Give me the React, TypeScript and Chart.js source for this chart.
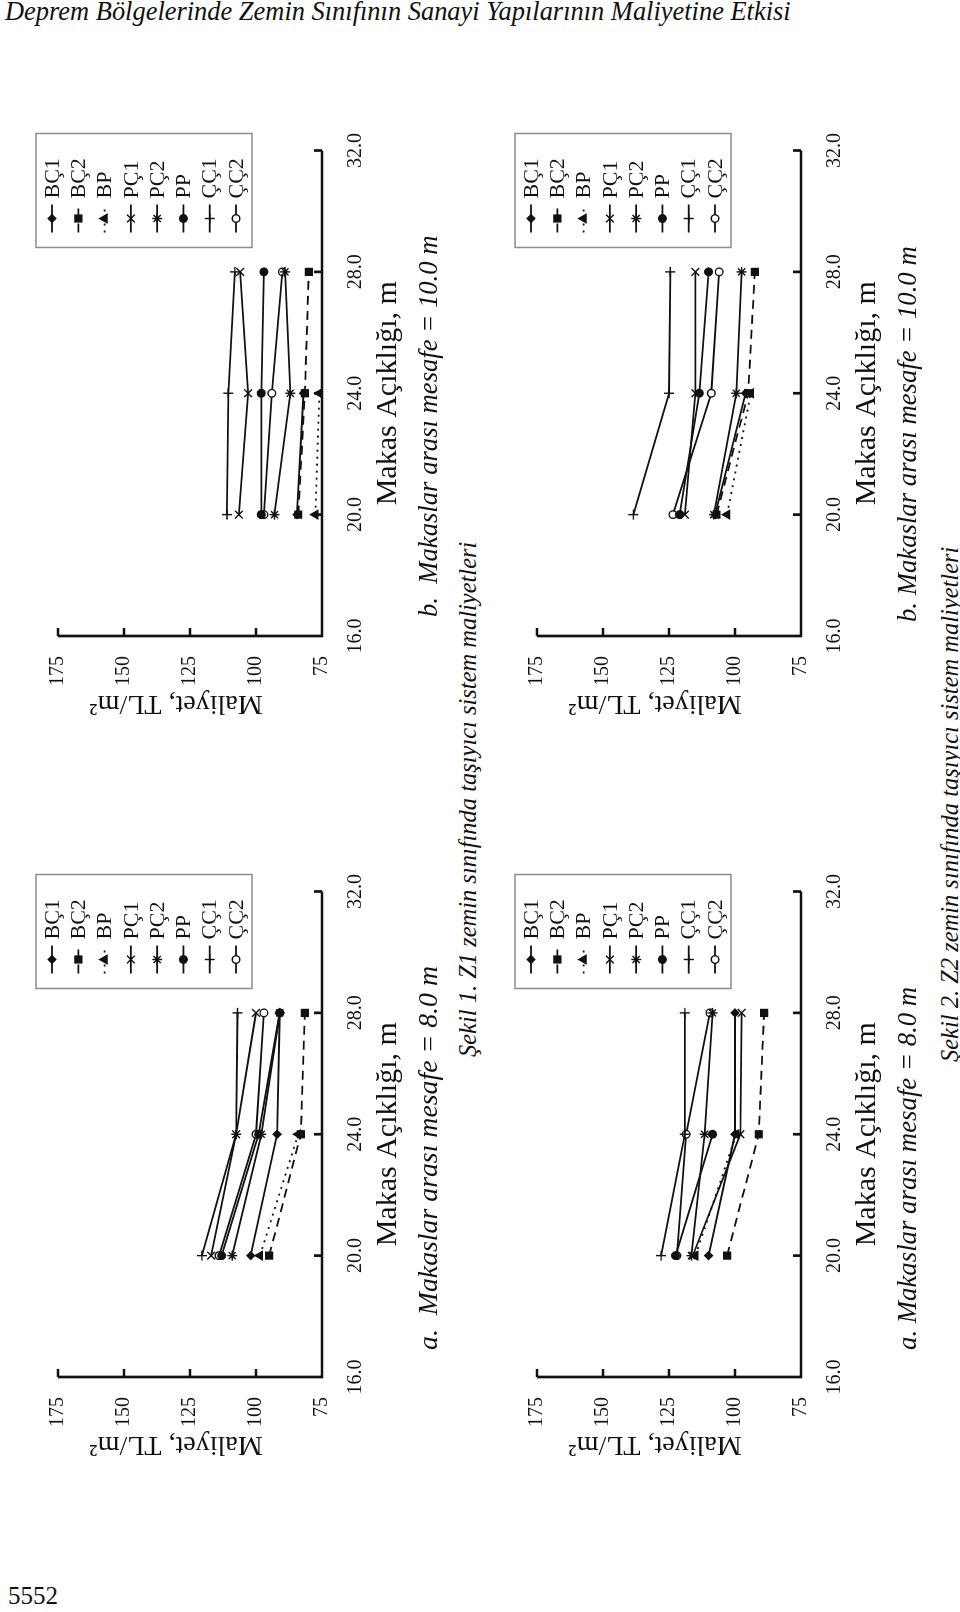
import React, { useEffect, useLayoutEffect, useRef } from 'react';
import { Chart, registerables } from 'chart.js';
import { drawPoint } from 'chart.js/helpers';

Chart.register(...registerables);

const SERIF = "'Liberation Serif', 'Times New Roman', 'DejaVu Serif', serif";
const INK = '#111';

// ---------- text ----------
const pageTitle = 'Deprem Bölgelerinde Zemin Sınıfının Sanayi Yapılarının Maliyetine Etkisi';
const pageNumber = '5552';
const xAxisTitle = 'Makas Açıklığı, m';
const yAxisTitle = '    Maliyet, TL/m²';

// ---------- axes ----------
const spans = [20, 24, 28]; // Makas açıklığı (m)
const xTickValues = [16, 20, 24, 28, 32];
const yTickValues = [75, 100, 125, 150, 175];
const seriesLabels = ['BÇ1', 'BÇ2', 'BP', 'PÇ1', 'PÇ2', 'PP', 'ÇÇ1', 'ÇÇ2'];

// ---------- Şekil 1 (Z1), a: 8.0 m ----------
const z1a_BC1 = [102, 92, 91];
const z1a_BC2 = [95, 83, 81.5];
const z1a_BP = [98.5, 84, null];
const z1a_PC1 = [117, 107.5, 100];
const z1a_PC2 = [109, 98, 91];
const z1a_PP = [113, 99, 91];
const z1a_CC1 = [120.5, 107.5, 107];
const z1a_CC2 = [114, 100, 97];

// ---------- Şekil 1 (Z1), b: 10.0 m ----------
const z1b_BC1 = [84.5, 82, null];
const z1b_BC2 = [84, 81.5, 80];
const z1b_BP = [77.5, 76, null];
const z1b_PC1 = [106.5, 103, 106];
const z1b_PC2 = [93, 87, 89];
const z1b_PP = [98, 98, 97];
const z1b_CC1 = [111, 110.5, 108];
const z1b_CC2 = [97, 94, 90];

// ---------- Şekil 2 (Z2), a: 8.0 m ----------
const z2a_BC1 = [110, 100, 100];
const z2a_BC2 = [103, 91, 89];
const z2a_BP = [115, 99.5, null];
const z2a_PC1 = [116, 98, 97.5];
const z2a_PC2 = [116.5, 111.5, 108.5];
const z2a_PP = [122.5, 108.5, null];
const z2a_CC1 = [128, 119, 119];
const z2a_CC2 = [122, 118.5, 109.5];

// ---------- Şekil 2 (Z2), b: 10.0 m ----------
const z2b_BC1 = [107.5, 96, null];
const z2b_BC2 = [107, 95, 92.5];
const z2b_BP = [103, 94, null];
const z2b_PC1 = [119, 115, 115];
const z2b_PC2 = [108, 99.5, 97.5];
const z2b_PP = [121, 113.5, 110];
const z2b_CC1 = [138.5, 125, 124.5];
const z2b_CC2 = [123.5, 109, 106];

// ---------- styles ----------
const seriesStyles = [
  { pointStyle: 'rectRot', radius: 3.8, fill: INK, dash: [] as number[] },
  { pointStyle: 'rect', radius: 4.8, fill: INK, dash: [9, 6] },
  { pointStyle: 'triangle', radius: 4.8, fill: INK, dash: [2, 5] },
  { pointStyle: 'crossRot', radius: 5.5, fill: INK, dash: [] as number[] },
  { pointStyle: 'star', radius: 5, fill: INK, dash: [] as number[] },
  { pointStyle: 'circle', radius: 3.8, fill: INK, dash: [] as number[] },
  { pointStyle: 'cross', radius: 5, fill: INK, dash: [] as number[] },
  { pointStyle: 'circle', radius: 3.8, fill: '#fff', dash: [] as number[] },
];

// layout (chart frame: u to the right, v downwards; the frame is rotated -90deg on the page)
const panels = [
  { key: 'z1a', series: [z1a_BC1, z1a_BC2, z1a_BP, z1a_PC1, z1a_PC2, z1a_PP, z1a_CC1, z1a_CC2], left: 140, top: 20 },
  { key: 'z1b', series: [z1b_BC1, z1b_BC2, z1b_BP, z1b_PC1, z1b_PC2, z1b_PP, z1b_CC1, z1b_CC2], left: 881, top: 20 },
  { key: 'z2a', series: [z2a_BC1, z2a_BC2, z2a_BP, z2a_PC1, z2a_PC2, z2a_PP, z2a_CC1, z2a_CC2], left: 140, top: 499 },
  { key: 'z2b', series: [z2b_BC1, z2b_BC2, z2b_BP, z2b_PC1, z2b_PC2, z2b_PP, z2b_CC1, z2b_CC2], left: 881, top: 499 },
];

const captions = [
  { text: 'a.  Makaslar arası mesafe = 8.0 m', u0: 262, u1: 646, vc: 428, size: 27 },
  { text: 'b.  Makaslar arası mesafe = 10.0 m', u0: 995, u1: 1376, vc: 428, size: 27 },
  { text: 'Şekil 1. Z1 zemin sınıfında taşıyıcı sistem maliyetleri', u0: 555, u1: 1070, vc: 468, size: 26 },
  { text: 'a. Makaslar arası mesafe = 8.0 m', u0: 262, u1: 625, vc: 907, size: 27 },
  { text: 'b. Makaslar arası mesafe = 10.0 m', u0: 990, u1: 1366, vc: 907, size: 27 },
  { text: 'Şekil 2. Z2 zemin sınıfında taşıyıcı sistem maliyetleri', u0: 550, u1: 1065, vc: 950, size: 26 },
];

const CANVAS_W = 620;
const CANVAS_H = 400;

const axisFramePlugin = {
  id: 'axisFrame',
  afterDatasetsDraw(chart: any) {
    const { ctx, scales } = chart;
    const xs = scales.x;
    const ys = scales.y;
    const x0 = xs.getPixelForValue(xTickValues[0]);
    const x1 = xs.getPixelForValue(xTickValues[xTickValues.length - 1]);
    const y0 = ys.getPixelForValue(yTickValues[0]);
    const y1 = ys.getPixelForValue(yTickValues[yTickValues.length - 1]);
    ctx.save();
    ctx.strokeStyle = INK;
    ctx.lineWidth = 2.7;
    ctx.setLineDash([]);
    ctx.lineJoin = 'miter';
    ctx.beginPath();
    ctx.moveTo(x0, y1);
    ctx.lineTo(x0, y0);
    ctx.lineTo(x1, y0);
    ctx.stroke();
    ctx.beginPath();
    for (const v of yTickValues.slice(1)) {
      const p = ys.getPixelForValue(v);
      ctx.moveTo(x0, p);
      ctx.lineTo(x0 + 8, p);
    }
    for (const v of xTickValues.slice(1)) {
      const p = xs.getPixelForValue(v);
      ctx.moveTo(p, y0);
      ctx.lineTo(p, y0 - 8);
    }
    ctx.stroke();
    ctx.restore();
  },
};

const legendBoxPlugin = {
  id: 'legendBox',
  afterDraw(chart: any) {
    const { ctx, chartArea: a } = chart;
    const left = a.right - 97;
    const right = a.right + 17;
    const top = a.top - 22;
    const bottom = a.top + 194;
    ctx.save();
    ctx.strokeStyle = '#8c8c8c';
    ctx.lineWidth = 1.5;
    ctx.setLineDash([]);
    ctx.strokeRect(left, top, right - left, bottom - top);
    const dsets = chart.data.datasets;
    const rowH = (bottom - top - 32) / (dsets.length - 1);
    dsets.forEach((ds: any, i: number) => {
      const cy = top + 16 + i * rowH;
      const lx0 = a.right - 82;
      const lx1 = a.right - 54;
      ctx.strokeStyle = INK;
      ctx.lineWidth = ds.borderWidth;
      ctx.setLineDash(ds.borderDash || []);
      ctx.beginPath();
      ctx.moveTo(lx0, cy);
      ctx.lineTo(lx1, cy);
      ctx.stroke();
      ctx.setLineDash([]);
      ctx.fillStyle = ds.pointBackgroundColor;
      ctx.strokeStyle = INK;
      ctx.lineWidth = ds.pointBorderWidth;
      drawPoint(
        ctx,
        { pointStyle: ds.pointStyle, radius: ds.pointRadius, rotation: 0, borderWidth: ds.pointBorderWidth } as any,
        (lx0 + lx1) / 2,
        cy
      );
      ctx.fillStyle = INK;
      ctx.font = `22px ${SERIF}`;
      ctx.textAlign = 'left';
      ctx.textBaseline = 'middle';
      ctx.fillText(ds.label, a.right - 48, cy + 1);
    });
    ctx.restore();
  },
};

function PanelChart({ series, left, top }: { series: (number | null)[][]; left: number; top: number }) {
  const ref = useRef<HTMLCanvasElement>(null);
  useEffect(() => {
    if (!ref.current) return;
    const datasets = seriesLabels.map((label, i) => {
      const st = seriesStyles[i];
      return {
        label,
        data: spans
          .map((x, j) => ({ x, y: series[i][j] }))
          .filter((p) => p.y !== null && p.y !== undefined),
        borderColor: INK,
        backgroundColor: st.fill,
        borderWidth: 1.8,
        borderDash: st.dash,
        pointStyle: st.pointStyle,
        pointRadius: st.radius,
        pointBackgroundColor: st.fill,
        pointBorderColor: INK,
        pointBorderWidth: 1.4,
        tension: 0,
        fill: false,
      };
    });
    const chart = new Chart(ref.current, {
      type: 'line',
      data: { datasets } as any,
      options: {
        responsive: false,
        animation: false,
        devicePixelRatio: 1,
        layout: { padding: { left: 0, right: 36, top: 38, bottom: 0 } },
        plugins: { legend: { display: false }, tooltip: { enabled: false } },
        scales: {
          x: {
            type: 'linear',
            min: xTickValues[0],
            max: xTickValues[xTickValues.length - 1],
            grid: { display: false, drawTicks: false },
            border: { display: false },
            afterBuildTicks: (s: any) => {
              s.ticks = xTickValues.map((v) => ({ value: v }));
            },
            ticks: {
              autoSkip: false,
              maxRotation: 0,
              padding: 22,
              color: INK,
              font: { family: SERIF, size: 20 },
              callback: (v: any) => Number(v).toFixed(1),
            },
            title: {
              display: true,
              text: xAxisTitle,
              color: INK,
              font: { family: SERIF, size: 30 },
              padding: { top: 0, bottom: 14 },
            },
            afterFit: (s: any) => {
              s.height = 98;
            },
          },
          y: {
            type: 'linear',
            min: yTickValues[0],
            max: yTickValues[yTickValues.length - 1],
            grid: { display: false, drawTicks: false },
            border: { display: false },
            afterBuildTicks: (s: any) => {
              s.ticks = yTickValues.map((v) => ({ value: v }));
            },
            ticks: {
              autoSkip: false,
              padding: 20,
              color: INK,
              font: { family: SERIF, size: 20 },
              callback: (v: any) => String(v),
            },
            title: {
              display: true,
              text: yAxisTitle,
              color: INK,
              font: { family: SERIF, size: 28 },
              padding: { top: 11, bottom: 0 },
            },
            afterFit: (s: any) => {
              s.width = 95;
            },
          },
        },
      } as any,
      plugins: [axisFramePlugin, legendBoxPlugin] as any,
    });
    return () => chart.destroy();
  }, [series]);
  return (
    <canvas
      ref={ref}
      width={CANVAS_W}
      height={CANVAS_H}
      style={{ position: 'absolute', left, top, width: CANVAS_W, height: CANVAS_H }}
    />
  );
}

function FitText({
  text,
  left,
  top,
  width,
  size,
  italic,
}: {
  text: string;
  left: number;
  top: number;
  width: number;
  size: number;
  italic?: boolean;
}) {
  const ref = useRef<HTMLSpanElement>(null);
  useLayoutEffect(() => {
    const el = ref.current;
    if (!el) return;
    el.style.transform = 'none';
    const w = el.offsetWidth;
    if (w > 0) el.style.transform = `scaleX(${width / w})`;
  }, [text, width]);
  return (
    <span
      ref={ref}
      style={{
        position: 'absolute',
        left,
        top,
        display: 'inline-block',
        whiteSpace: 'pre',
        fontFamily: SERIF,
        fontSize: size,
        fontStyle: italic ? 'italic' : 'normal',
        lineHeight: 1,
        color: INK,
        transformOrigin: '0 50%',
      }}
    >
      {text}
    </span>
  );
}

export default function App() {
  return (
    <div
      style={{
        position: 'absolute',
        left: 0,
        top: 0,
        width: 960,
        height: 1612,
        overflow: 'hidden',
        background: '#fff',
      }}
    >
      <FitText text={pageTitle} left={5} top={-2} width={786} size={27} italic />
      <FitText text={pageNumber} left={8} top={1583} width={50} size={26} />
      <div
        style={{
          position: 'absolute',
          left: 0,
          top: 1612,
          width: 1612,
          height: 960,
          transformOrigin: '0 0',
          transform: 'rotate(-90deg)',
        }}
      >
        {panels.map((p) => (
          <PanelChart key={p.key} series={p.series} left={p.left} top={p.top} />
        ))}
        {captions.map((c, i) => (
          <FitText
            key={i}
            text={c.text}
            left={c.u0}
            top={c.vc - c.size / 2}
            width={c.u1 - c.u0}
            size={c.size}
            italic
          />
        ))}
      </div>
    </div>
  );
}
